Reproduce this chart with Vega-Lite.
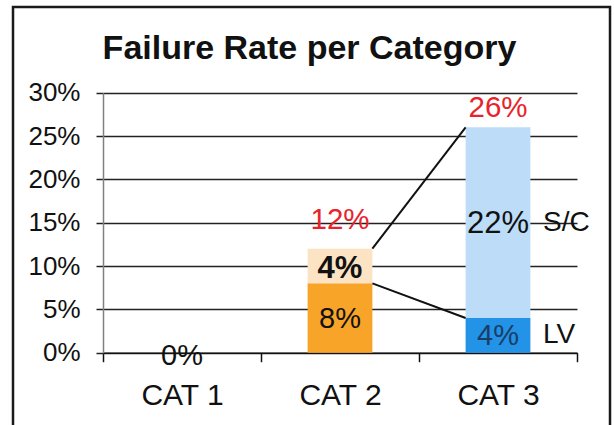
{
  "$schema": "https://vega.github.io/schema/vega-lite/v6.json",
  "width": 597,
  "height": 440,
  "padding": {"left": 13, "top": 7, "right": 4, "bottom": 0},
  "background": "white",
  "config": {
    "view": {"stroke": "#1a1a1a", "strokeWidth": 2.5},
    "font": "Liberation Sans",
    "text": {"font": "Liberation Sans"}
  },
  "title": {
    "text": "Failure Rate per Category",
    "font": "Liberation Sans",
    "fontSize": 34,
    "fontWeight": "bold",
    "color": "#111111",
    "anchor": "middle",
    "frame": "group",
    "baseline": "alphabetic",
    "offset": -86,
    "dx": -2
  },
  "datasets": {
    "failures": [
      {"cat": "CAT 1", "segment": "CAT 1", "level": 0, "value": 0, "name": null},
      {"cat": "CAT 2", "segment": "CAT 2 base", "level": 0, "value": 0.08, "name": null},
      {"cat": "CAT 2", "segment": "CAT 2 top", "level": 1, "value": 0.04, "name": null},
      {"cat": "CAT 3", "segment": "LV", "level": 0, "value": 0.04, "name": "LV"},
      {"cat": "CAT 3", "segment": "S/C", "level": 1, "value": 0.22, "name": "S/C"}
    ],
    "seriesLines": [
      {"from": "CAT 2", "to": "CAT 3", "start": 0.12, "end": 0.26},
      {"from": "CAT 2", "to": "CAT 3", "start": 0.08, "end": 0.04}
    ]
  },
  "data": {"name": "failures"},
  "encoding": {
    "x": {
      "field": "cat",
      "type": "nominal",
      "title": null,
      "scale": {
        "type": "band",
        "domain": ["CAT 1", "CAT 2", "CAT 3"],
        "range": [90, 564],
        "paddingInner": 0,
        "paddingOuter": 0
      },
      "axis": {
        "title": null,
        "orient": "bottom",
        "offset": -94.3,
        "grid": false,
        "domainColor": "#111111",
        "domainWidth": 1.5,
        "tickBand": "extent",
        "tickColor": "#111111",
        "tickWidth": 1.5,
        "tickSize": 9,
        "labelAngle": 0,
        "labelFont": "Liberation Sans",
        "labelFontSize": 30,
        "labelColor": "#111111",
        "labelPadding": 19
      }
    }
  },
  "layer": [
    {
      "mark": {"type": "bar", "width": {"band": 0.41}},
      "encoding": {
        "y": {
          "field": "value",
          "type": "quantitative",
          "stack": "zero",
          "title": null,
          "scale": {"domain": [0, 0.3], "range": [345.7, 85.7], "nice": false, "zero": false},
          "axis": {
            "title": null,
            "offset": -90,
            "values": [0, 0.05, 0.1, 0.15, 0.2, 0.25, 0.3],
            "format": ".0%",
            "domainColor": "#808080",
            "domainWidth": 1.5,
            "tickColor": "#222222",
            "tickWidth": 1.5,
            "tickSize": 7,
            "grid": true,
            "gridColor": "#222222",
            "gridWidth": 1.5,
            "labelFont": "Liberation Sans",
            "labelFontSize": 26,
            "labelColor": "#111111",
            "labelPadding": 16
          }
        },
        "order": {"field": "level", "type": "quantitative"},
        "color": {
          "field": "segment",
          "type": "nominal",
          "legend": null,
          "scale": {
            "domain": ["CAT 1", "CAT 2 base", "CAT 2 top", "LV", "S/C"],
            "range": ["#ffffff", "#f8a428", "#fce3c4", "#2293e6", "#bcdcf7"]
          }
        }
      }
    },
    {
      "data": {"name": "seriesLines"},
      "mark": {"type": "rule", "color": "#111111", "strokeWidth": 2},
      "encoding": {
        "x": {"field": "from", "type": "nominal", "bandPosition": 0.705, "title": null},
        "x2": {"field": "to", "bandPosition": 0.295},
        "y": {"field": "start", "type": "quantitative", "title": null},
        "y2": {"field": "end"}
      }
    },
    {
      "transform": [
        {"aggregate": [{"op": "sum", "field": "value", "as": "total"}], "groupby": ["cat"]},
        {"filter": "datum.cat === 'CAT 2'"}
      ],
      "mark": {"type": "text", "fontSize": 29.5, "color": "#e8232b", "baseline": "middle", "dy": -28.7},
      "encoding": {
        "y": {"field": "total", "type": "quantitative", "title": null},
        "text": {"field": "total", "type": "quantitative", "format": ".0%"}
      }
    },
    {
      "transform": [
        {"aggregate": [{"op": "sum", "field": "value", "as": "total"}], "groupby": ["cat"]},
        {"filter": "datum.cat === 'CAT 3'"}
      ],
      "mark": {"type": "text", "fontSize": 29.5, "color": "#e8232b", "baseline": "middle", "dy": -19},
      "encoding": {
        "y": {"field": "total", "type": "quantitative", "title": null},
        "text": {"field": "total", "type": "quantitative", "format": ".0%"}
      }
    },
    {
      "transform": [
        {"aggregate": [{"op": "sum", "field": "value", "as": "total"}], "groupby": ["cat"]},
        {"filter": "datum.total === 0"}
      ],
      "mark": {"type": "text", "fontSize": 29, "color": "#111111", "baseline": "middle", "dy": 3},
      "encoding": {
        "y": {"field": "total", "type": "quantitative", "title": null},
        "text": {"field": "total", "type": "quantitative", "format": ".0%"}
      }
    },
    {
      "transform": [
        {"stack": "value", "groupby": ["cat"], "sort": [{"field": "level", "order": "ascending"}], "as": ["y0", "y1"]},
        {"fold": ["y0", "y1"], "as": ["edge", "pos"]},
        {"aggregate": [{"op": "mean", "field": "pos", "as": "mid"}], "groupby": ["cat", "segment", "level", "value", "name"]},
        {"filter": "datum.value > 0 && datum.segment !== 'CAT 2 top'"}
      ],
      "mark": {"type": "text", "baseline": "middle", "dy": 1},
      "encoding": {
        "y": {"field": "mid", "type": "quantitative", "title": null},
        "text": {"field": "value", "type": "quantitative", "format": ".0%"},
        "size": {"condition": {"test": "datum.segment === 'S/C'", "value": 31}, "value": 29},
        "color": {"condition": {"test": "datum.segment === 'LV'", "value": "#1a3d66"}, "value": "#111111"}
      }
    },
    {
      "transform": [
        {"stack": "value", "groupby": ["cat"], "sort": [{"field": "level", "order": "ascending"}], "as": ["y0", "y1"]},
        {"fold": ["y0", "y1"], "as": ["edge", "pos"]},
        {"aggregate": [{"op": "mean", "field": "pos", "as": "mid"}], "groupby": ["cat", "segment", "level", "value", "name"]},
        {"filter": "datum.segment === 'CAT 2 top'"}
      ],
      "mark": {"type": "text", "baseline": "middle", "dy": 3, "fontSize": 31, "fontWeight": "bold", "color": "#111111"},
      "encoding": {
        "y": {"field": "mid", "type": "quantitative", "title": null},
        "text": {"field": "value", "type": "quantitative", "format": ".0%"}
      }
    },
    {
      "transform": [
        {"stack": "value", "groupby": ["cat"], "sort": [{"field": "level", "order": "ascending"}], "as": ["y0", "y1"]},
        {"fold": ["y0", "y1"], "as": ["edge", "pos"]},
        {"aggregate": [{"op": "mean", "field": "pos", "as": "mid"}], "groupby": ["cat", "segment", "level", "value", "name"]},
        {"filter": "datum.name != null"}
      ],
      "mark": {"type": "text", "baseline": "middle", "align": "left", "dx": 12.6, "fontSize": 28, "color": "#111111"},
      "encoding": {
        "x": {"field": "cat", "type": "nominal", "bandPosition": 0.705, "title": null},
        "y": {"field": "mid", "type": "quantitative", "title": null},
        "text": {"field": "name", "type": "nominal"}
      }
    }
  ]
}
